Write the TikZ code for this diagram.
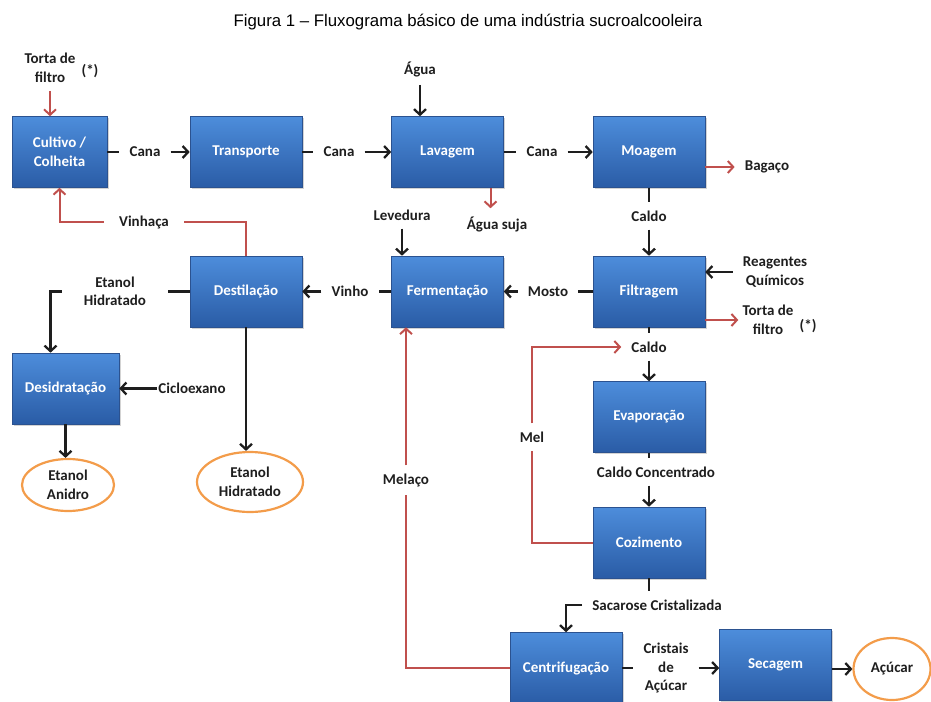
\documentclass[tikz,border=0pt]{standalone}
\usepackage{fontspec}
\setmainfont{Carlito}
\newfontfamily\titlefont{Liberation Sans}
\usetikzlibrary{arrows.meta,positioning,shapes.geometric,shadows}
\definecolor{CaneTop}{HTML}{4D8DDB}
\definecolor{CaneBottom}{HTML}{2A5CA6}
\definecolor{CaneEdge}{HTML}{2B5290}
\definecolor{CaneRed}{HTML}{C0504D}
\definecolor{CaneOrange}{HTML}{F39C4A}
\definecolor{CaneInk}{HTML}{1E1E1E}

\begin{document}
\begin{tikzpicture}[x=1pt,y=-1pt,
    font=\fontsize{15}{18.5}\selectfont\bfseries,
    proc/.style={draw=CaneEdge,line width=.6pt,top color=CaneTop,bottom color=CaneBottom,
      text=white,align=center,minimum width=112pt,minimum height=71pt,
      drop shadow={shadow xshift=1.5pt,shadow yshift=-1.5pt,opacity=.35}},
    prod/.style={ellipse,draw=CaneOrange,line width=2.2pt,fill=white,align=center,text=CaneInk},
    lbl/.style={align=center,inner xsep=10pt,inner ysep=8pt,text=CaneInk},
    flow/.style={line width=2.3pt,draw=CaneInk},
    recycle/.style={line width=2pt,draw=CaneRed},
    >={Straight Barb[length=5.5pt,width=12pt]}
  ]
  \useasboundingbox (0,0) rectangle (931,701);
  \node[font=\titlefont\fontsize{16.8}{20}\selectfont,text=black] (title) at (468,22)
    {Figura 1 – Fluxograma básico de uma indústria sucroalcooleira};

  % process boxes
  \node[proc,minimum width=95pt] (cultivo) at (59.5,152) {Cultivo /\\Colheita};
  \node[proc] (transporte) at (246,152) {Transporte};
  \node[proc] (lavagem) at (447.5,152) {Lavagem};
  \node[proc] (moagem) at (649,152) {Moagem};
  \node[proc] (destilacao) at (246,291.5) {Destilação};
  \node[proc] (fermentacao) at (447.5,291.5) {Fermentação};
  \node[proc] (filtragem) at (649,291.5) {Filtragem};
  \node[proc,minimum width=107pt] (desidratacao) at (65.5,388.5) {Desidratação};
  \node[proc] (evaporacao) at (649,417) {Evaporação};
  \node[proc] (cozimento) at (649,542.5) {Cozimento};
  \node[proc] (centrifugacao) at (566,668) {Centrifugação};
  \node[proc] (secagem) at (775.5,665) {Secagem};

  % products
  \node[prod,minimum width=92pt,minimum height=52pt] (anidro) at (68,485) {Etanol\\Anidro};
  \node[prod,minimum width=106pt,minimum height=60pt] (hidratado) at (250,482) {Etanol\\Hidratado};
  \node[prod,minimum width=77pt,minimum height=62pt] (acucar) at (892,669) {Açúcar};

  % stream labels
  \node[lbl] (cana1) at (145,152) {Cana};
  \node[lbl] (cana2) at (339,152) {Cana};
  \node[lbl] (cana3) at (542,152) {Cana};
  \node[lbl] (agua) at (420,69) {Água};
  \node[lbl] (aguasuja) at (497,224) {Água suja};
  \node[lbl] (levedura) at (402,215) {Levedura};
  \node[lbl] (bagaco) at (767,167) {Bagaço};
  \node[lbl] (caldo1) at (649,216) {Caldo};
  \node[lbl] (torta1) at (50,68) {Torta de\\filtro};
  \node[lbl,inner sep=0pt] (ast1) at (90,71) {(*)};
  \node[lbl,inner xsep=15pt] (vinhaca) at (144,222) {Vinhaça};
  \node[lbl] (mosto) at (548,291.5) {Mosto};
  \node[lbl] (vinho) at (350,291.5) {Vinho};
  \node[lbl,inner xsep=22pt] (etanolh) at (115,291.5) {Etanol\\Hidratado};
  \node[lbl,inner xsep=1pt] (ciclo) at (192,388.5) {Cicloexano};
  \node[lbl] (reagentes) at (775,272) {Reagentes\\Químicos};
  \node[lbl,inner xsep=4pt] (torta2) at (768,320) {Torta de\\filtro};
  \node[lbl,inner sep=0pt] (ast2) at (808,326) {(*)};
  \node[lbl] (caldo2) at (649,347) {Caldo};
  \node[lbl] (mel) at (532,437) {Mel};
  \node[lbl] (caldoconc) at (656,472) {Caldo Concentrado};
  \node[lbl] (melaco) at (406,480) {Melaço};
  \node[lbl] (sacarose) at (657,605) {Sacarose Cristalizada};
  \node[lbl] (cristais) at (666,668) {Cristais\\de\\Açúcar};

  % cane line
  \draw[flow] (cultivo) -- (cana1);
  \draw[flow,->] (cana1) -- (transporte);
  \draw[flow] (transporte) -- (cana2);
  \draw[flow,->] (cana2) -- (lavagem);
  \draw[flow] (lavagem) -- (cana3);
  \draw[flow,->] (cana3) -- (moagem);
  \draw[flow,->] (agua) -- (agua |- lavagem.north);
  \draw[recycle,->] ([xshift=43pt]lavagem.south) -- ([xshift=43pt]lavagem.south |- aguasuja.north);
  \draw[recycle,->] (moagem.east |- bagaco) -- (bagaco);
  \draw[flow] (moagem) -- (caldo1);
  \draw[flow,->] (caldo1) -- (filtragem);
  \draw[recycle,->] (torta1) -- (torta1 |- cultivo.north);

  % ethanol line
  \draw[flow,->] (reagentes) -- (reagentes -| filtragem.east);
  \draw[recycle,->] (filtragem.east |- torta2) -- (torta2);
  \draw[flow] (filtragem) -- (mosto);
  \draw[flow,->] (mosto) -- (fermentacao);
  \draw[flow,->] (levedura) -- (levedura |- fermentacao.north);
  \draw[flow] (fermentacao) -- (vinho);
  \draw[flow,->] (vinho) -- (destilacao);
  \draw[recycle] (destilacao.north) |- (vinhaca);
  \draw[recycle,->] (vinhaca) -| (cultivo.south);
  \draw[flow] (destilacao) -- (etanolh);
  \draw[flow,->] (etanolh) -| ([xshift=-15pt]desidratacao.north);
  \draw[flow,->] (destilacao.south) -- (destilacao.south |- hidratado.north);
  \draw[flow,->] (ciclo) -- (ciclo -| desidratacao.east);
  \draw[flow,->] (desidratacao.south) -- (desidratacao.south |- anidro.north);

  % sugar line
  \draw[flow] (filtragem) -- (caldo2);
  \draw[flow,->] (caldo2) -- (evaporacao);
  \draw[flow] (evaporacao.south) -- (evaporacao.south |- caldoconc.north);
  \draw[flow,->] (caldoconc.south -| cozimento.north) -- (cozimento.north);
  \draw[recycle] (cozimento.west) -| (mel.south);
  \draw[recycle,->] (mel.north) |- (caldo2.west);
  \draw[flow] (cozimento.south) -- (cozimento.south |- sacarose.north);
  \draw[flow,->] (sacarose.west) -| (centrifugacao.north);
  \draw[flow] (centrifugacao) -- (cristais);
  \draw[flow,->] (cristais) -- (cristais -| secagem.west);
  \draw[flow,->] (secagem.east |- acucar) -- (acucar);
  \draw[recycle] (centrifugacao.west) -| (melaco.south);
  \draw[recycle,->] (melaco.north) -- (melaco.north |- fermentacao.south);
\end{tikzpicture}
\end{document}
